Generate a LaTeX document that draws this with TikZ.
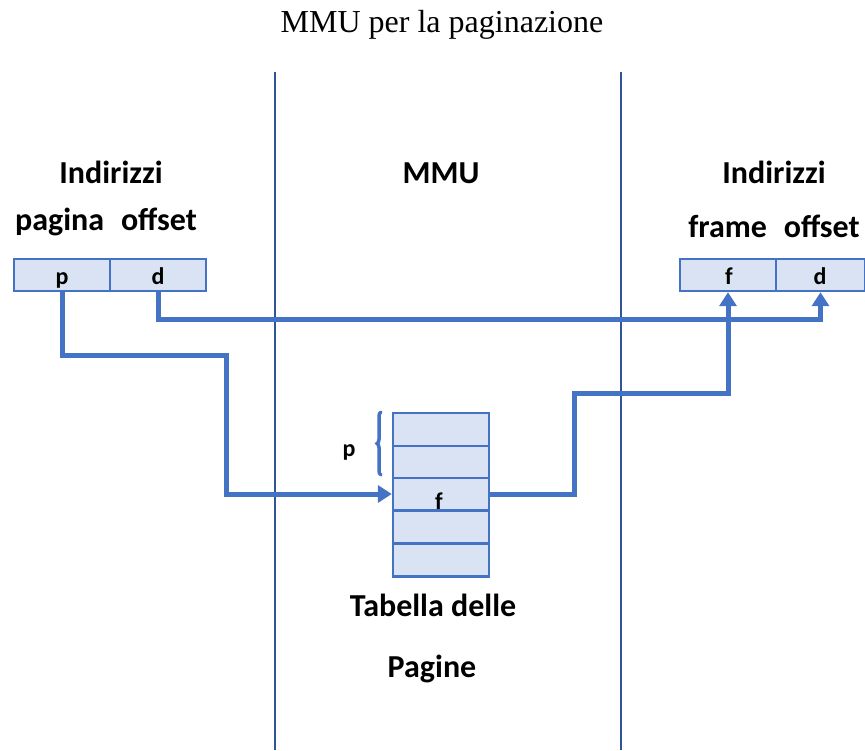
\documentclass[tikz,border=0pt]{standalone}
\usepackage{fontspec}
\setmainfont{Carlito}
\newfontfamily\titlefont{Liberation Serif}
\usetikzlibrary{arrows.meta,decorations.pathreplacing}
\definecolor{accent}{HTML}{4472C4}
\definecolor{cellfill}{HTML}{DAE3F3}
\definecolor{divider}{HTML}{2F5597}
\begin{document}
\begin{tikzpicture}[x=1pt,y=-1pt,
  cell/.style={draw=accent,line width=2.4pt,fill=cellfill,inner sep=0pt,
    minimum height=32pt},
  lbl/.style={font=\fontsize{32}{38}\selectfont\bfseries,inner sep=0pt,anchor=base},
  small/.style={font=\fontsize{24}{28}\selectfont\bfseries,inner sep=0pt,anchor=base},
  conn/.style={draw=accent,line width=5pt},
  tip/.style={-{Triangle[length=14pt,width=17pt]}}]
\useasboundingbox (0,0) rectangle (865,750);

% title
\node[anchor=base,inner sep=0pt,font=\fontsize{32}{38}\selectfont\titlefont] (title) at (442,32) {MMU per la paginazione};

% zone separators
\draw[divider,line width=2pt] (275,72) -- (275,750);
\draw[divider,line width=2pt] (621,72) -- (621,750);

% headings
\node[lbl] (hl1) at (111,183) {Indirizzi};
\node[lbl] (hl2) at (106,230) {pagina\hspace{0.3em} offset};
\node[lbl] (hm) at (441,183) {MMU};
\node[lbl] (hr1) at (774,183) {Indirizzi};
\node[lbl] (hr2) at (774,237) {frame\hspace{0.3em} offset};

% logical address
\node[cell,minimum width=96pt] (lp) at (62,275) {};
\node[cell,minimum width=96pt] (ld) at (158,275) {};
\node[small] at (62,284) {p};
\node[small] at (158,284) {d};

% physical address
\node[cell,minimum width=96pt] (rf) at (728,275) {};
\node[cell,minimum width=89pt] (rd) at (820.5,275) {};
\node[small] at (729,284) {f};
\node[small] at (820,284) {d};

% page table
\foreach \i/\y in {1/429.5,2/462,3/494,4/527,5/560}
  \node[cell,minimum width=96pt,minimum height=32.6pt] (t\i) at (441,\y) {};
\node[small] (tf) at (439,509) {f};
\draw[accent,line width=3.5pt,line cap=round,decorate,
  decoration={brace,amplitude=4pt,raise=0pt}] (381,475) -- (381,412);
\node[small] (tp) at (349,456) {p};

\node[lbl] (tab1) at (433,616) {Tabella delle};
\node[lbl] (tab2) at (432,677) {Pagine};

% routing points
\coordinate (c1) at (226,355);
\coordinate (c2) at (0,319);
\coordinate (c3) at (574,393);

% connectors
\draw[conn,tip] (lp.south) |- (c1) |- (t3.west);
\draw[conn,tip] (ld.south) -- (ld.south |- c2) -- (rd.south |- c2) -- (rd.south);
\draw[conn,tip] (t3.east) -| (c3) -| (rf.south);
\end{tikzpicture}
\end{document}
